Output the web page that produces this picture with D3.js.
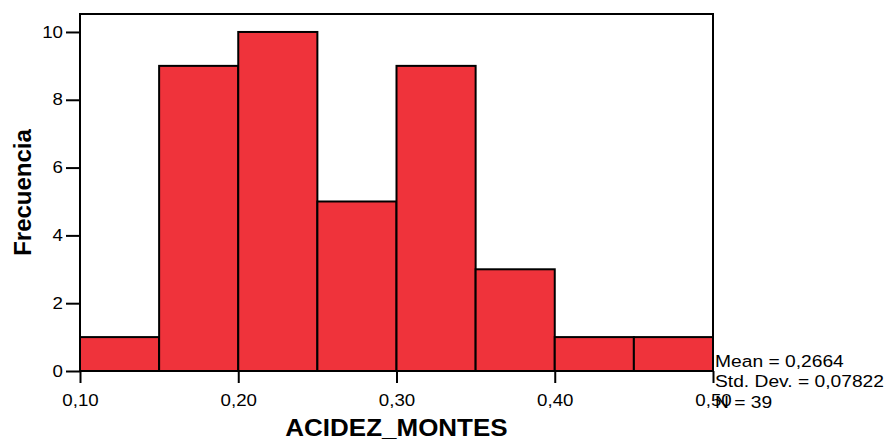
<!DOCTYPE html>
<html>
<head>
<meta charset="utf-8">
<script src="https://cdn.jsdelivr.net/npm/d3@7"></script>
<style>
  html, body { margin: 0; padding: 0; background: #fff; }
  svg { display: block; font-family: Arial, "Liberation Sans", sans-serif; }
</style>
</head>
<body>
<svg id="chart" width="890" height="441"></svg>
<script>
// Histogram bins of ACIDEZ_MONTES (lower and upper bin edges) and counts
const binStarts = [0.10, 0.15, 0.20, 0.25, 0.30, 0.35, 0.40, 0.45];
const binEnds   = [0.15, 0.20, 0.25, 0.30, 0.35, 0.40, 0.45, 0.50];
const counts    = [1, 9, 10, 5, 9, 3, 1, 1];
const xTicks = [0.10, 0.20, 0.30, 0.40, 0.50];
const yTicks = [0, 2, 4, 6, 8, 10];
const statsLines = ["Mean = 0,2664", "Std. Dev. = 0,07822", "N = 39"];

const svg = d3.select("#chart");
const plotL = 80, plotR = 713, plotT = 14, plotB = 371;
const wide = 1.17;   // horizontal widening of the label type

const x = d3.scaleLinear().domain([0.10, 0.50]).range([plotL, plotR]);
const y = d3.scaleLinear().domain([0, 10.53]).range([plotB, plotT]);
const fmt = d => d3.format(".2f")(d).replace(".", ",");

// bars
svg.append("g").selectAll("rect")
  .data(counts)
  .join("rect")
  .attr("x", (d, i) => x(binStarts[i]))
  .attr("width", (d, i) => x(binEnds[i]) - x(binStarts[i]))
  .attr("y", d => y(d))
  .attr("height", d => y(0) - y(d))
  .attr("fill", "#ef333b")
  .attr("stroke", "#000")
  .attr("stroke-width", 2);

// frame (left, top, right)
svg.append("path")
  .attr("d", `M${plotL},${plotB}V${plotT}H${plotR}V${plotB}`)
  .attr("fill", "none").attr("stroke", "#000").attr("stroke-width", 2);

// y axis
const yAxis = svg.append("g").attr("transform", `translate(${plotL},0)`)
  .call(d3.axisLeft(y).tickValues(yTicks).tickSize(14).tickPadding(3).tickFormat(d3.format("d")));
yAxis.select(".domain").remove();
yAxis.selectAll(".tick line").attr("stroke", "#000").attr("stroke-width", 2);
yAxis.selectAll(".tick text")
  .attr("font-size", 16).attr("fill", "#000")
  .attr("font-family", "Arial, 'Liberation Sans', sans-serif")
  .attr("x", -17 / wide)
  .attr("transform", `scale(${wide},1)`);

// x axis
const xAxis = svg.append("g").attr("transform", `translate(0,${plotB})`)
  .call(d3.axisBottom(x).tickValues(xTicks).tickSize(12).tickPadding(10).tickFormat(fmt));
xAxis.select(".domain").attr("stroke", "#000").attr("stroke-width", 2)
  .attr("d", `M${plotL},0H${plotR}`);
xAxis.selectAll(".tick line").attr("stroke", "#000").attr("stroke-width", 2);
xAxis.selectAll(".tick text")
  .attr("font-size", 16).attr("fill", "#000")
  .attr("font-family", "Arial, 'Liberation Sans', sans-serif")
  .attr("dy", null).attr("y", 35)
  .attr("transform", `scale(${wide},1)`);

// axis titles
svg.append("text")
  .attr("transform", `translate(${(plotL + plotR) / 2},436) scale(1.13,1)`)
  .attr("text-anchor", "middle").attr("font-weight", "bold").attr("font-size", 23)
  .text("ACIDEZ_MONTES");

svg.append("text")
  .attr("transform", `translate(31,${(plotT + plotB) / 2}) rotate(-90)`)
  .attr("text-anchor", "middle").attr("font-weight", "bold").attr("font-size", 24)
  .text("Frecuencia");

// summary statistics
svg.append("g").selectAll("text")
  .data(statsLines)
  .join("text")
  .attr("transform", (d, i) => `translate(715,${366.5 + i * 20.7}) scale(1.18,1)`)
  .attr("font-size", 16.3)
  .text(d => d);
</script>
</body>
</html>
